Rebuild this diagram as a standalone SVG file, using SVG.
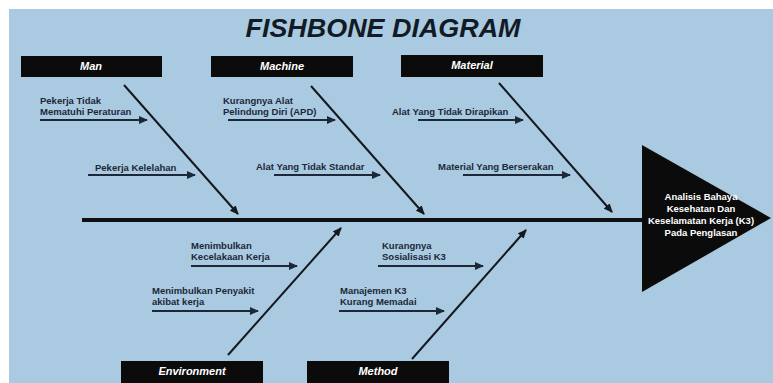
<svg xmlns="http://www.w3.org/2000/svg" width="773" height="383" viewBox="0 0 773 383">
<style>
.lbl{font-family:"Liberation Sans",Arial,sans-serif;font-size:9.5px;font-weight:bold;fill:#1c2838}
.cat{font-family:"Liberation Sans",Arial,sans-serif;font-size:11px;font-weight:bold;font-style:italic;fill:#ffffff;text-anchor:middle}
.box{fill:#0b0b0b}
.bone{stroke:#14181f;stroke-width:2;fill:none;marker-end:url(#ah)}
.sub{stroke:#1c2838;stroke-width:2;fill:none;marker-end:url(#ah2)}
.head{font-family:"Liberation Sans",Arial,sans-serif;font-size:9.5px;font-weight:bold;fill:#ffffff;text-anchor:middle}
</style>
<defs>
<marker id="ah" markerWidth="9" markerHeight="8" refX="8" refY="4" orient="auto" markerUnits="userSpaceOnUse">
<path d="M0,0 L9,4 L0,8 Z" fill="#14181f"/>
</marker>
<marker id="ah2" markerWidth="9" markerHeight="8" refX="8" refY="4" orient="auto" markerUnits="userSpaceOnUse">
<path d="M0,0 L9,4 L0,8 Z" fill="#1c2838"/>
</marker>
</defs>
<rect x="0" y="0" width="773" height="383" fill="#ffffff"/>
<rect x="9" y="9" width="764" height="374" fill="#a9cae0"/>
<text x="383" y="37" font-family="'Liberation Sans',Arial,sans-serif" font-size="25" font-weight="bold" font-style="italic" fill="#121a26" text-anchor="middle" textLength="275" lengthAdjust="spacingAndGlyphs">FISHBONE DIAGRAM</text>

<g id="spine">
<line x1="82" y1="220" x2="645" y2="220" stroke="#0d0f12" stroke-width="4"/>
</g>

<g id="head">
<polygon points="642,145 771,218 642,292" fill="#0b0b0b"/>
<text class="head" x="701" y="200">Analisis Bahaya</text>
<text class="head" x="701" y="212">Kesehatan Dan</text>
<text class="head" x="701" y="224">Keselamatan Kerja (K3)</text>
<text class="head" x="701" y="236">Pada Penglasan</text>
</g>

<g id="man">
<rect class="box" x="21" y="56" width="141" height="21"/>
<text class="cat" x="91" y="70">Man</text>
</g>
<g id="machine">
<rect class="box" x="211" y="56" width="142" height="21"/>
<text class="cat" x="282" y="70">Machine</text>
</g>
<g id="material">
<rect class="box" x="401" y="55" width="142" height="22"/>
<text class="cat" x="472" y="69">Material</text>
</g>
<g id="environment">
<rect class="box" x="121" y="361" width="142" height="22"/>
<text class="cat" x="192" y="375">Environment</text>
</g>
<g id="method">
<rect class="box" x="307" y="361" width="142" height="22"/>
<text class="cat" x="378" y="375">Method</text>
</g>

<g id="labels">
<text class="lbl" x="40" y="104">Pekerja Tidak</text>
<text class="lbl" x="40" y="115">Mematuhi Peraturan</text>
<text class="lbl" x="95" y="171">Pekerja Kelelahan</text>
<text class="lbl" x="223" y="104">Kurangnya Alat</text>
<text class="lbl" x="223" y="115">Pelindung Diri (APD)</text>
<text class="lbl" x="256" y="170">Alat Yang Tidak Standar</text>
<text class="lbl" x="392" y="115">Alat Yang Tidak Dirapikan</text>
<text class="lbl" x="438" y="170">Material Yang Berserakan</text>
<text class="lbl" x="191" y="249">Menimbulkan</text>
<text class="lbl" x="191" y="260">Kecelakaan Kerja</text>
<text class="lbl" x="152" y="294">Menimbulkan Penyakit</text>
<text class="lbl" x="152" y="305">akibat kerja</text>
<text class="lbl" x="382" y="249">Kurangnya</text>
<text class="lbl" x="382" y="260">Sosialisasi K3</text>
<text class="lbl" x="340" y="294">Manajemen K3</text>
<text class="lbl" x="340" y="305">Kurang Memadai</text>
</g>

<g id="connectors">
<line class="bone" x1="124" y1="85" x2="238" y2="214"/>
<line class="bone" x1="311" y1="86" x2="424" y2="214"/>
<line class="bone" x1="499" y1="83" x2="612" y2="212"/>
<line class="bone" x1="228" y1="355" x2="341" y2="228"/>
<line class="bone" x1="412" y1="359" x2="526" y2="230"/>
<line class="sub" x1="40" y1="120" x2="147" y2="120"/>
<line class="sub" x1="88" y1="175" x2="195" y2="175"/>
<line class="sub" x1="228" y1="120" x2="335" y2="120"/>
<line class="sub" x1="274" y1="175" x2="380" y2="175"/>
<line class="sub" x1="418" y1="120" x2="523" y2="120"/>
<line class="sub" x1="463" y1="175" x2="570" y2="175"/>
<line class="sub" x1="191" y1="266" x2="297" y2="266"/>
<line class="sub" x1="152" y1="311" x2="258" y2="311"/>
<line class="sub" x1="378" y1="266" x2="483" y2="266"/>
<line class="sub" x1="339" y1="311" x2="444" y2="311"/>
</g>
</svg>
